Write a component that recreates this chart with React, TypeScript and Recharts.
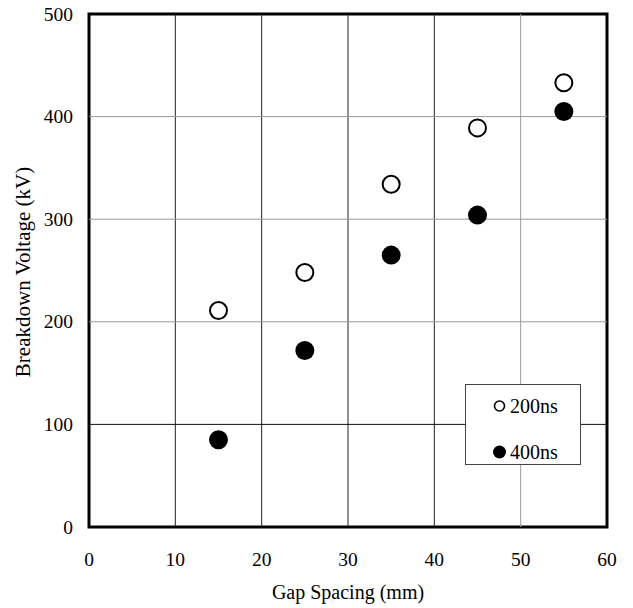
import React from 'react';
import {
  ScatterChart,
  Scatter,
  XAxis,
  YAxis,
  ReferenceLine,
  ReferenceArea,
  Legend,
  Label,
} from 'recharts';

const gapSpacing = [15, 25, 35, 45, 55];
const voltage200ns = [211, 248, 334, 389, 433];
const voltage400ns = [85, 172, 265, 304, 405];
const seriesNames = ['200ns', '400ns'];
const xTicks = [0, 10, 20, 30, 40, 50, 60];
const yTicks = [0, 100, 200, 300, 400, 500];
const xGridDark = [10, 20, 30, 40];
const xGridLight = [50];
const yGridDark = [100];
const yGridLight = [200, 300, 400];

const data200 = gapSpacing.map((x, i) => ({ x, y: voltage200ns[i] }));
const data400 = gapSpacing.map((x, i) => ({ x, y: voltage400ns[i] }));

const FONT = '"Liberation Serif", "Times New Roman", serif';

const OpenDot = (props: any) => (
  <circle cx={props.cx} cy={props.cy} r={8.5} fill="#fff" stroke="#000" strokeWidth={2} />
);
const FilledDot = (props: any) => (
  <circle cx={props.cx} cy={props.cy} r={9.5} fill="#000" stroke="none" />
);

const XTick = (props: any) => {
  const { x, y, payload } = props;
  return (
    <text x={x} y={y + 39} textAnchor="middle" fontFamily={FONT} fontSize={19.5} fill="#000">
      {payload.value}
    </text>
  );
};

const YTick = (props: any) => {
  const { x, y, payload } = props;
  return (
    <text x={x - 16} y={y + 6.5} textAnchor="end" fontFamily={FONT} fontSize={19.5} fill="#000">
      {payload.value}
    </text>
  );
};

const LegendContent = () => (
  <div
    style={{
      width: 114,
      height: 79,
      border: '1px solid #444',
      background: '#fff',
      fontFamily: FONT,
      fontSize: 20,
      color: '#000',
      boxSizing: 'content-box',
      position: 'relative',
    }}
  >
    {seriesNames.map((name, i) => (
      <div
        key={name}
        style={{
          position: 'absolute',
          left: 27,
          top: 9 + i * 46,
          height: 24,
          display: 'flex',
          alignItems: 'center',
        }}
      >
        <svg width={15} height={16} style={{ marginRight: 2 }}>
          {i === 0 ? (
            <circle cx={6.5} cy={8} r={5} fill="#fff" stroke="#000" strokeWidth={1.6} />
          ) : (
            <circle cx={6.5} cy={8} r={6.5} fill="#000" />
          )}
        </svg>
        <span style={{ lineHeight: '24px', fontFamily: FONT }}>{name}</span>
      </div>
    ))}
  </div>
);

export default function App() {
  return (
    <div style={{ position: 'absolute', left: 0, top: 0, background: '#fff' }}>
      <ScatterChart
        width={633}
        height={608}
        margin={{ top: 14, right: 26, left: 0, bottom: 0 }}
      >
        <XAxis
          type="number"
          dataKey="x"
          domain={[0, 60]}
          ticks={xTicks}
          tickSize={0}
          tickMargin={0}
          axisLine={false}
          tickLine={false}
          height={81}
          tick={<XTick />}
          interval={0}
        >
          <Label
            content={() => (
              <text
                x={348}
                y={599}
                textAnchor="middle"
                fontFamily={FONT}
                fontSize={20}
                fill="#000"
              >
                Gap Spacing (mm)
              </text>
            )}
          />
        </XAxis>
        <YAxis
          type="number"
          dataKey="y"
          domain={[0, 500]}
          ticks={yTicks}
          tickSize={0}
          tickMargin={0}
          axisLine={false}
          tickLine={false}
          width={89}
          tick={<YTick />}
          interval={0}
        >
          <Label
            content={() => (
              <text
                x={30}
                y={272}
                transform="rotate(-90, 30, 272)"
                textAnchor="middle"
                fontFamily={FONT}
                fontSize={21}
                fill="#000"
              >
                Breakdown Voltage (kV)
              </text>
            )}
          />
        </YAxis>
        {xGridDark.map((v) => (
          <ReferenceLine key={'xd' + v} x={v} stroke="#222" strokeWidth={1} />
        ))}
        {xGridLight.map((v) => (
          <ReferenceLine key={'xl' + v} x={v} stroke="#999" strokeWidth={1} />
        ))}
        {yGridDark.map((v) => (
          <ReferenceLine key={'yd' + v} y={v} stroke="#111" strokeWidth={1} />
        ))}
        {yGridLight.map((v) => (
          <ReferenceLine key={'yl' + v} y={v} stroke="#999" strokeWidth={1} />
        ))}
        <Scatter
          name={seriesNames[0]}
          data={data200}
          shape={OpenDot}
          isAnimationActive={false}
        />
        <Scatter
          name={seriesNames[1]}
          data={data400}
          shape={FilledDot}
          isAnimationActive={false}
        />
        <ReferenceArea
          x1={0}
          x2={60}
          y1={0}
          y2={500}
          fill="none"
          fillOpacity={0}
          stroke="#000"
          strokeWidth={3}
          ifOverflow="visible"
        />
        <Legend
          content={<LegendContent />}
          layout="horizontal"
          verticalAlign="middle"
          align="center"
          wrapperStyle={{ position: 'absolute', left: 465, top: 384, width: 116, height: 81 }}
        />
      </ScatterChart>
    </div>
  );
}
